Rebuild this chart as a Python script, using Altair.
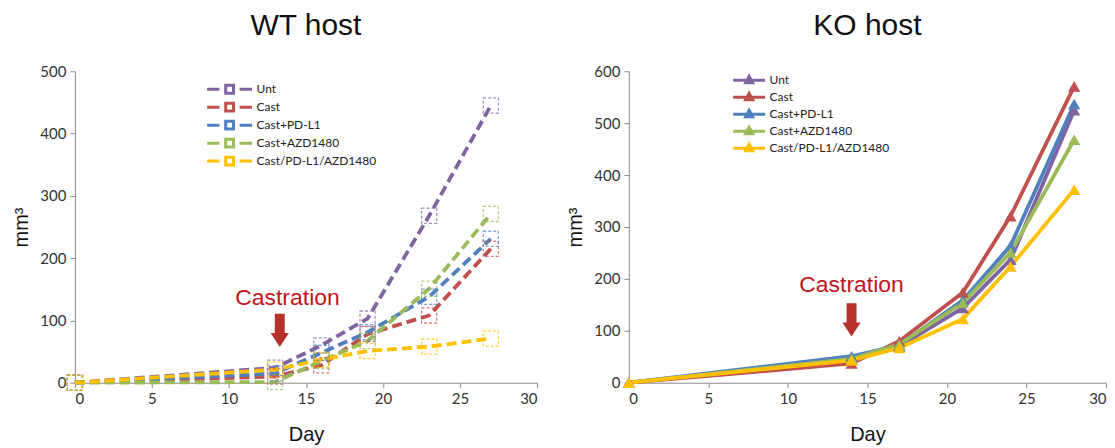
import altair as alt
import pandas as pd

series = ["Unt", "Cast", "Cast+PD-L1", "Cast+AZD1480", "Cast/PD-L1/AZD1480"]
colors = ["#8064A2", "#C0504D", "#4F81BD", "#9BBB59", "#FFC000"]

# WT host
wt_days = [0, 13, 16, 19, 23, 27]
wt_unt = [0, 24, 60, 103, 268, 445]
wt_cast = [0, 10, 28, 78, 108, 215]
wt_pdl1 = [0, 15, 48, 81, 138, 231]
wt_azd = [0, 1, 35, 67, 151, 271]
wt_combo = [0, 21, 37, 51, 58, 71]

# KO host
ko_days = [0, 14, 17, 21, 24, 28]
ko_unt = [0, 45, 70, 144, 237, 525]
ko_cast = [0, 37, 80, 174, 321, 571]
ko_pdl1 = [0, 51, 72, 159, 264, 537]
ko_azd = [0, 46, 74, 154, 251, 468]
ko_combo = [0, 43, 67, 123, 224, 372]

# annotations (data coordinates)
ann_label = ["Castration", "Castration"]
wt_ann = {"text_day": 13.8, "text_val": 136, "arrow_day": 13.3, "arrow_val": 84}
ko_ann = {"text_day": 14.0, "text_val": 188, "arrow_day": 14.0, "arrow_val": 121}


def long_df(days, values):
    rows = []
    for i, (name, vals) in enumerate(zip(series, values)):
        for d, v in zip(days, vals):
            rows.append({"day": d, "vol": v, "series": name, "idx": i})
    return pd.DataFrame(rows)


wt_df = long_df(wt_days, [wt_unt, wt_cast, wt_pdl1, wt_azd, wt_combo])
ko_df = long_df(ko_days, [ko_unt, ko_cast, ko_pdl1, ko_azd, ko_combo])

color_scale = alt.Scale(domain=series, range=colors)
ARROW = "M-0.3,-1L0.3,-1L0.3,0.15L0.55,0.15L0,1L-0.55,0.15L-0.3,0.15Z"
RED_TEXT = "#C0141B"
RED_ARROW = "#B7312C"


def panel(df, days_max, ymax, title, dashed, ann, legend_x, legend_y, width,
          leg_path, label_offset):
    xs = alt.X("day:Q", scale=alt.Scale(domain=[0, days_max]),
               axis=alt.Axis(title="Day", values=list(range(0, 31, 5)),
                             titlePadding=18))
    ys = alt.Y("vol:Q", scale=alt.Scale(domain=[0, ymax]),
               axis=alt.Axis(title="mm³", values=list(range(0, ymax + 1, 100)),
                             titlePadding=8))
    legend = alt.Legend(title=None, orient="none", legendX=legend_x,
                        legendY=legend_y, symbolType=leg_path,
                        symbolSize=169, symbolStrokeWidth=3,
                        labelFontSize=12, labelFont="Lato",
                        labelColor="#222", rowPadding=-2, padding=0,
                        labelOffset=label_offset, symbolDash=[1, 0])
    color = alt.Color("series:N", scale=color_scale, legend=legend,
                      sort=series)
    base = alt.Chart(df)
    if dashed:
        line = base.mark_line(strokeWidth=3.8, strokeDash=[10, 5]).encode(
            x=xs, y=ys, color=color, detail="series:N")
        pts = base.mark_point(shape="square", filled=False, size=230,
                              strokeWidth=1.3, strokeDash=[3, 2]).encode(
            x="day:Q", y="vol:Q", color=alt.Color("series:N", scale=color_scale,
                                                  legend=None))
    else:
        line = base.mark_line(strokeWidth=3.8).encode(
            x=xs, y=ys, color=color, detail="series:N")
        pts = base.mark_point(shape="triangle-up", filled=True, size=150,
                              opacity=1).encode(
            x="day:Q", y="vol:Q", color=alt.Color("series:N", scale=color_scale,
                                                  legend=None))
    ann_df = pd.DataFrame([{"label": ann_label[0], **ann}])
    txt = alt.Chart(ann_df).mark_text(font="Liberation Sans", fontSize=23,
                                      color=RED_TEXT).encode(
        x="text_day:Q", y="text_val:Q", text="label:N")
    arrow = alt.Chart(ann_df).mark_point(shape=ARROW, filled=True, size=1100,
                                         color=RED_ARROW, opacity=1).encode(
        x="arrow_day:Q", y="arrow_val:Q")
    return alt.layer(line, pts, txt, arrow).properties(
        width=width, height=312,
        title=alt.TitleParams(title, fontSize=30, font="Liberation Sans",
                              fontWeight="normal", color="#111", offset=23))


wt_leg = "M-1,0H0.9M1.86,-0.6H3.06V0.6H1.86ZM4,0H5.92"
ko_leg = "M-1,0H3.92M1.46,-0.6L2.0,0.4L0.92,0.4Z"

wt = panel(wt_df, 30, 500, "WT host", True, wt_ann, 131, 10, 463, wt_leg, 35)
ko = panel(ko_df, 30, 600, "KO host", False, ko_ann, 103, 1, 478, ko_leg, 22)

chart = alt.hconcat(wt, ko, spacing=27).resolve_legend(
    color="independent").configure_view(stroke=None).configure_axis(
    grid=False, domainColor="#8a8a8a", tickColor="#8a8a8a", tickSize=5,
    labelFont="Lato", labelFontSize=15, labelColor="#333",
    titleFont="Liberation Sans", titleFontSize=20, titleFontWeight="normal",
    titleColor="#111", labelPadding=4).properties(
    padding={"left": 3, "top": 3, "right": 0, "bottom": 0})

chart.save("out.html", embed_options={"renderer": "svg", "actions": False})
